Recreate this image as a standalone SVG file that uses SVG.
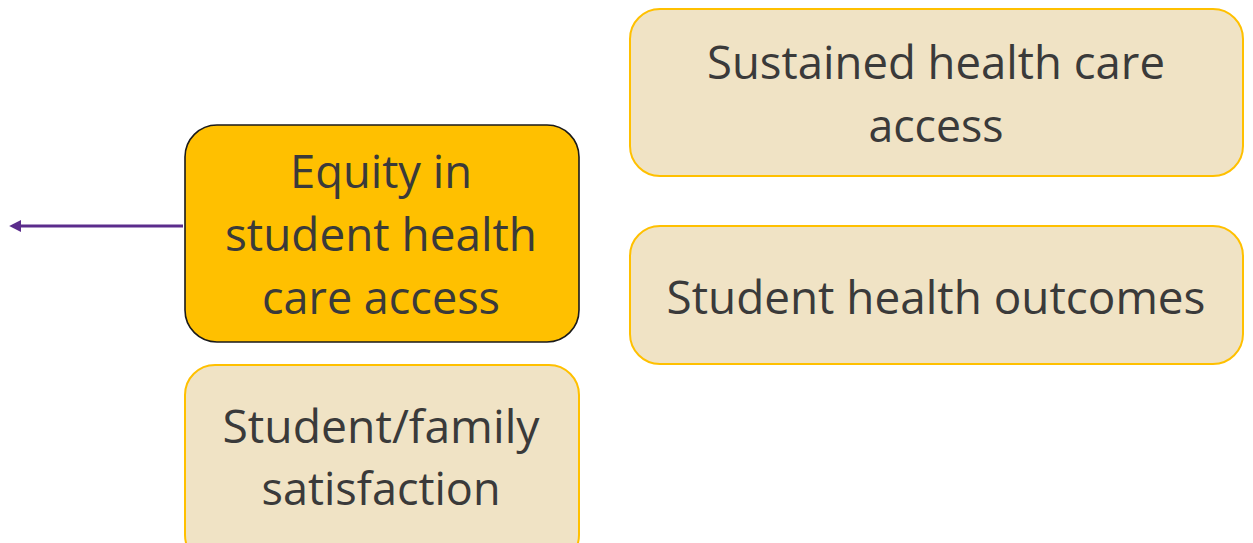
<svg xmlns="http://www.w3.org/2000/svg" width="1253" height="543" viewBox="0 0 1253 543">
  <style>
    .box { fill: #F0E3C5; stroke: #FFC000; stroke-width: 2; }
    .key { fill: #FFC000; stroke: #1A1A1A; stroke-width: 1.6; }
    .label { font-family: "Open Sans", "Liberation Sans", sans-serif; font-size: 45px; fill: #3A3A3A; text-anchor: middle; }
    .link { stroke: #5B2C8C; stroke-width: 3; fill: none; }
  </style>
  <defs>
    <marker id="arrowhead" viewBox="0 0 10 10" refX="1" refY="5" markerWidth="4" markerHeight="4" orient="auto-start-reverse" markerUnits="strokeWidth">
      <path d="M0,0 L10,5 L0,10 Z" fill="#5B2C8C"/>
    </marker>
  </defs>
  <rect width="1253" height="543" fill="#FFFFFF"/>

  <g id="connectors">
    <line class="link" x1="183" y1="226" x2="20" y2="226" marker-end="url(#arrowhead)"/>
  </g>

  <g id="node-equity">
    <rect class="key" x="185" y="125" width="394" height="217" rx="32" ry="32"/>
    <text class="label" x="381" y="188" textLength="182" lengthAdjust="spacingAndGlyphs">Equity in</text>
    <text class="label" x="381" y="251" textLength="312" lengthAdjust="spacingAndGlyphs">student health</text>
    <text class="label" x="381" y="314" textLength="238" lengthAdjust="spacingAndGlyphs">care access</text>
  </g>

  <g id="node-satisfaction">
    <rect class="box" x="185" y="365" width="394" height="200" rx="30" ry="30"/>
    <text class="label" x="381" y="443" textLength="317" lengthAdjust="spacingAndGlyphs">Student/family</text>
    <text class="label" x="381" y="505" textLength="239" lengthAdjust="spacingAndGlyphs">satisfaction</text>
  </g>

  <g id="node-sustained">
    <rect class="box" x="630" y="9" width="613" height="167" rx="30" ry="30"/>
    <text class="label" x="936" y="79" textLength="458" lengthAdjust="spacingAndGlyphs">Sustained health care</text>
    <text class="label" x="936" y="142" textLength="135" lengthAdjust="spacingAndGlyphs">access</text>
  </g>

  <g id="node-outcomes">
    <rect class="box" x="630" y="226" width="613" height="138" rx="30" ry="30"/>
    <text class="label" x="936" y="314" textLength="539" lengthAdjust="spacingAndGlyphs">Student health outcomes</text>
  </g>
</svg>
